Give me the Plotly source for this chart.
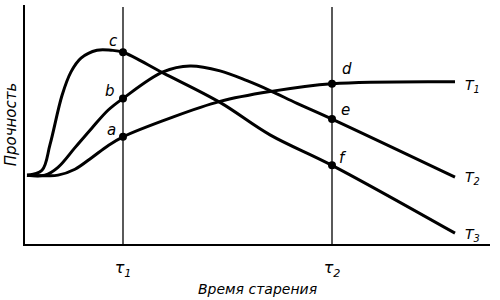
import plotly.graph_objects as go

# ---- data (arbitrary units) ----
tau_vals = [9.8, 30.7]
tau_labels = ["τ<sub>1</sub>", "τ<sub>2</sub>"]

t1_x = [0.2, 2.0, 3.3, 5.0, 6.7, 8.3, 9.8, 14.5, 19.5, 24.5, 30.7, 43.0]
t1_y = [7.0, 6.95, 7.0, 7.6, 8.8, 10.0, 10.9, 12.8, 14.5, 15.5, 16.3, 16.5]

t2_x = [0.2, 2.0, 3.3, 5.0, 6.7, 8.3, 9.8, 13.8, 16.5, 19.5, 22.2, 24.5, 27.2, 30.7, 43.0]
t2_y = [7.0, 7.0, 7.8, 9.8, 11.8, 13.6, 14.8, 17.5, 18.1, 17.6, 16.6, 15.6, 14.3, 12.7, 6.8]

t3_x = [0.2, 1.7, 2.5, 3.7, 4.6, 5.6, 7.2, 8.6, 9.8, 13.8, 19.5, 24.5, 30.7, 43.0]
t3_y = [7.0, 7.5, 10.1, 15.1, 17.5, 18.9, 19.7, 19.7, 19.5, 17.4, 14.4, 11.1, 8.0, 1.1]

pt_labels = ["a", "b", "c", "d", "e", "f"]
pt_x = [9.8, 9.8, 9.8, 30.7, 30.7, 30.7]
pt_y = [10.9, 14.8, 19.5, 16.3, 12.7, 8.0]

curve_names = ["T<sub>1</sub>", "T<sub>2</sub>", "T<sub>3</sub>"]
curve_end_y = [16.1, 6.7, 0.9]

x_title = "Время старения"
y_title = "Прочность"

X_MAX, Y_MAX = 46.5, 24.3

fig = go.Figure()
for xs, ys in [(t1_x, t1_y), (t2_x, t2_y), (t3_x, t3_y)]:
    fig.add_trace(go.Scatter(x=xs, y=ys, mode="lines",
                             line=dict(color="black", width=3, shape="spline", smoothing=1.0),
                             hoverinfo="skip", showlegend=False))

# vertical tau lines
for tv in tau_vals:
    fig.add_trace(go.Scatter(x=[tv, tv], y=[0, 24.1], mode="lines",
                             line=dict(color="black", width=1.3),
                             hoverinfo="skip", showlegend=False))

fig.add_trace(go.Scatter(x=pt_x, y=pt_y, mode="markers",
                         marker=dict(color="black", size=8),
                         showlegend=False, hoverinfo="skip"))

shifts = [(-12, 7), (-13, 7), (-10, 11), (15, 15), (13, 9), (11, 7)]
for lab, x, y, (dx, dy) in zip(pt_labels, pt_x, pt_y, shifts):
    fig.add_annotation(x=x, y=y, text=lab, showarrow=False, xshift=dx, yshift=dy,
                       font=dict(size=15, color="black", family="DejaVu Sans", style="italic"))

for name, y in zip(curve_names, curve_end_y):
    fig.add_annotation(x=43.8, y=y, text=name, showarrow=False, xanchor="left",
                       font=dict(size=14, color="black", family="DejaVu Sans", style="italic"))

fig.update_layout(
    width=500, height=300,
    margin=dict(l=25, r=10, t=5, b=52),
    paper_bgcolor="white", plot_bgcolor="white",
    xaxis=dict(range=[0, X_MAX], showgrid=False, zeroline=False,
               showline=True, linecolor="black", linewidth=2,
               tickvals=tau_vals, ticktext=tau_labels, ticks="",
               ticklabelstandoff=8,
               tickfont=dict(size=16, color="black", family="DejaVu Sans", style="italic"),
               title=dict(text=x_title, standoff=6,
                          font=dict(size=14, color="black", family="DejaVu Sans", style="italic"))),
    yaxis=dict(range=[0, Y_MAX], showgrid=False, zeroline=False,
               showline=True, linecolor="black", linewidth=2,
               showticklabels=False, ticks="",
               title=dict(text=y_title, standoff=3,
                          font=dict(size=15, color="black", family="DejaVu Sans", style="italic"))),
)

fig.write_html("out.html")
